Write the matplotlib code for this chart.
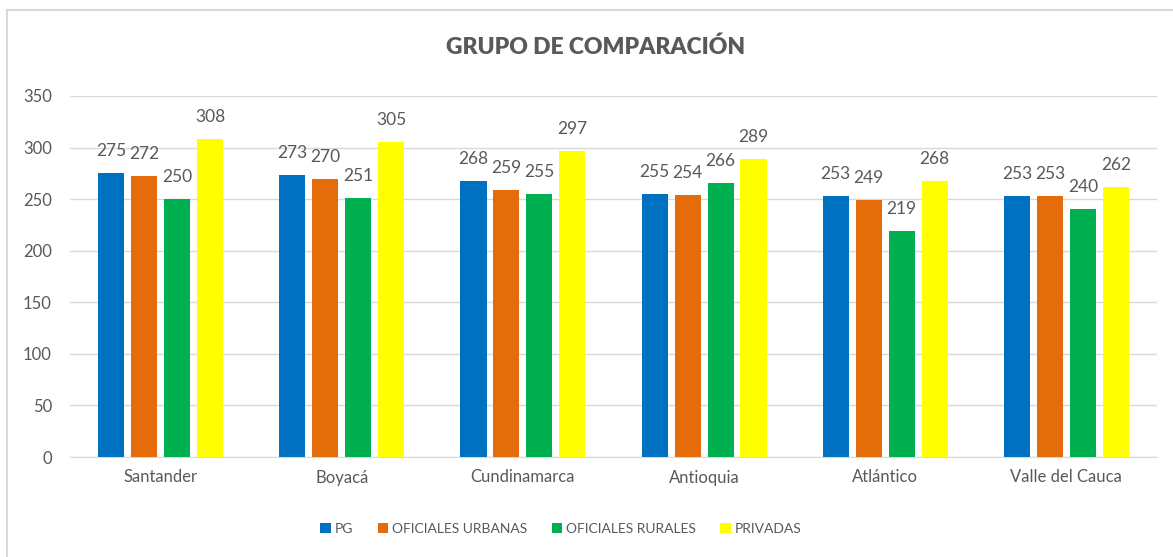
import matplotlib.pyplot as plt
import numpy as np
from matplotlib.lines import Line2D

plt.rcParams['font.family'] = ['Lato', 'DejaVu Sans']

regions = ['Santander', 'Boyacá', 'Cundinamarca', 'Antioquia', 'Atlántico', 'Valle del Cauca']
series = ['PG', 'OFICIALES URBANAS', 'OFICIALES RURALES', 'PRIVADAS']
pg = [275, 273, 268, 255, 253, 253]
urbanas = [272, 270, 259, 254, 249, 253]
rurales = [250, 251, 255, 266, 219, 240]
privadas = [308, 305, 297, 289, 268, 262]
yticks = [0, 50, 100, 150, 200, 250, 300, 350]

colors = ['#0070C0', '#E46C0A', '#00B050', '#FFFF00']
grey = '#595959'

fig = plt.figure(figsize=(11.73, 5.57), dpi=100)
ax = fig.add_axes([70 / 1173, 1 - 457 / 557, 1087 / 1173, 361 / 557])

x = np.arange(len(regions))
step = 0.182
width = 0.144
for i, (name, vals) in enumerate(zip(series, [pg, urbanas, rurales, privadas])):
    pos = x + (i - 1.5) * step
    ax.bar(pos, vals, width, color=colors[i], label=name, zorder=3)
    for px, v in zip(pos, vals):
        ax.annotate(str(v), (px, v), xytext=(0, 22), textcoords='offset pixels',
                    ha='center', va='center', fontsize=12.5, color=grey)

ax.set_xlim(-0.5, len(regions) - 0.5)
ax.set_ylim(0, 350)
ax.set_yticks(yticks)
ax.set_xticks(x)
ax.set_xticklabels(regions)
ax.tick_params(axis='both', length=0, labelsize=12, colors=grey)
ax.tick_params(axis='y', pad=13)
ax.tick_params(axis='x', pad=9)
ax.grid(axis='y', color='#d9d9d9', linewidth=1, zorder=0)
for s in ['top', 'right', 'left']:
    ax.spines[s].set_visible(False)
ax.spines['bottom'].set_color('#d9d9d9')

fig.text(596 / 1173, 1 - 47 / 557, 'GRUPO DE COMPARACIÓN', ha='center', va='center',
         fontsize=16.5, fontweight='heavy', color=grey)

leg = fig.legend(loc='center', bbox_to_anchor=(561 / 1173, 1 - 529 / 557), ncol=4,
                 frameon=False, fontsize=10, handlelength=0.75, handleheight=0.75,
                 handletextpad=0.3, columnspacing=1.75)
for t in leg.get_texts():
    t.set_color(grey)

# chart border
fig.add_artist(Line2D([7 / 1173, 1], [1 - 10 / 557, 1 - 10 / 557], color='#d9d9d9', lw=1.5))
fig.add_artist(Line2D([7 / 1173, 7 / 1173], [0, 1 - 10 / 557], color='#d9d9d9', lw=1.5))

fig.savefig('out.png', dpi=100)
